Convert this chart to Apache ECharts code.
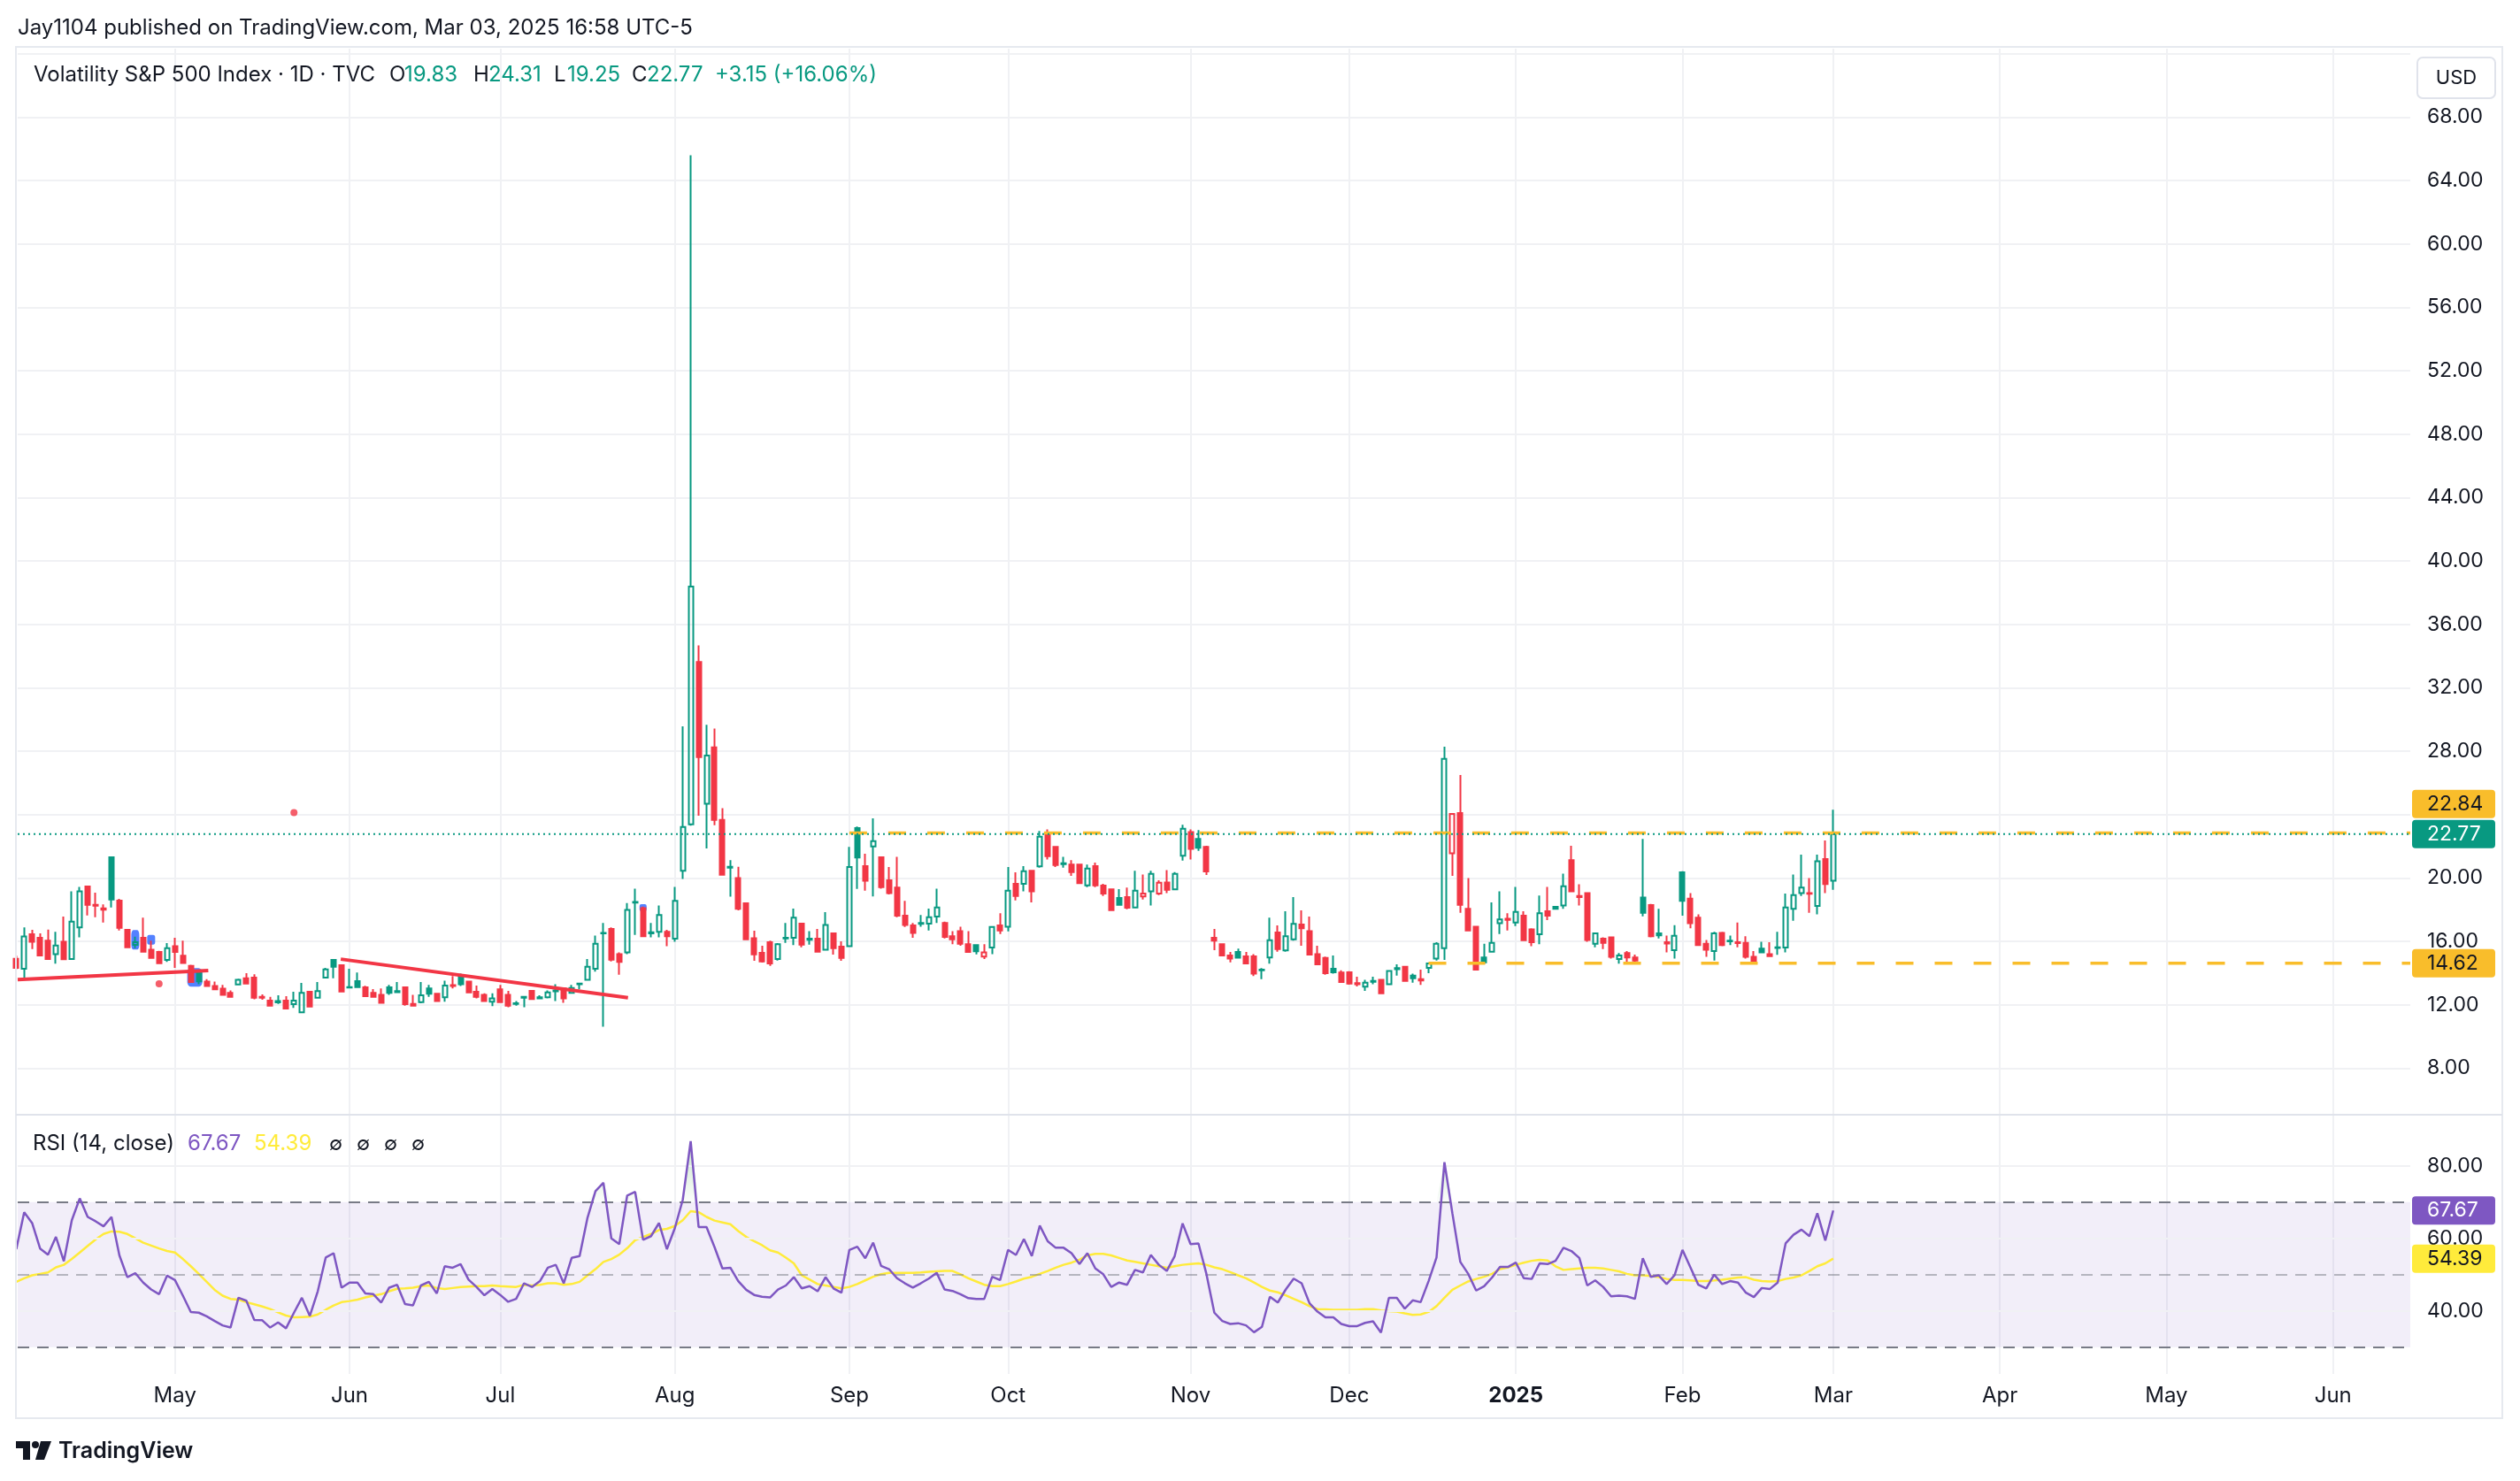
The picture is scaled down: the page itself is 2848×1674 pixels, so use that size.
<!DOCTYPE html>
<html><head><meta charset="utf-8">
<script src="https://cdn.jsdelivr.net/npm/echarts/dist/echarts.min.js"></script>
<style>html,body{margin:0;padding:0;background:#fff}#c{width:2848px;height:1674px}</style>
</head><body><div id="c"></div>
<script>
// ---------------- DATA ----------------
const tradingDays = {
  '2024-04': [3,4,5,8,9,10,11,12,15,16,17,18,19,22,23,24,25,26,29,30],
  '2024-05': [1,2,3,6,7,8,9,10,13,14,15,16,17,20,21,22,23,24,28,29,30,31],
  '2024-06': [3,4,5,6,7,10,11,12,13,14,17,18,20,21,24,25,26,27,28],
  '2024-07': [1,2,3,5,8,9,10,11,12,15,16,17,18,19,22,23,24,25,26,29,30,31],
  '2024-08': [1,2,5,6,7,8,9,12,13,14,15,16,19,20,21,22,23,26,27,28,29,30],
  '2024-09': [3,4,5,6,9,10,11,12,13,16,17,18,19,20,23,24,25,26,27,30],
  '2024-10': [1,2,3,4,7,8,9,10,11,14,15,16,17,18,21,22,23,24,25,28,29,30,31],
  '2024-11': [1,4,5,6,7,8,11,12,13,14,15,18,19,20,21,22,25,26,27,29],
  '2024-12': [2,3,4,5,6,9,10,11,12,13,16,17,18,19,20,23,24,26,27,30,31],
  '2025-01': [2,3,6,7,8,9,10,13,14,15,16,17,21,22,23,24,27,28,29,30,31],
  '2025-02': [3,4,5,6,7,10,11,12,13,14,18,19,20,21,24,25,26,27,28],
  '2025-03': [3,4,5,6,7,10,11,12,13,14,17,18,19,20,21,24,25,26,27,28,31],
  '2025-04': [1,2,3,4,7,8,9,10,11,14,15,16,17,21,22,23,24,25,28,29,30],
  '2025-05': [1,2,5,6,7,8,9,12,13,14,15,16,19,20,21,22,23,27,28,29,30],
  '2025-06': [2,3,4,5,6,9,10,11,12,13]
};
const monthNames = ['Jan','Feb','Mar','Apr','May','Jun','Jul','Aug','Sep','Oct','Nov','Dec'];
const priorClose = 14.61;

const opens = [
 14.9,14.27,16.45,16.22,16.04,15.2,15.98,14.89,16.88,19.46,18.3,18.08,21.3,18.57,16.73,15.78,16.22,15.48,15.33,14.83,
 15.7,15.09,14.46,13.99,13.47,13.19,13.02,12.75,13.28,13.68,13.71,12.5,12.26,12.24,12.26,12.04,11.52,12.82,12.45,13.71,
 14.83,14.5,13.12,13.49,13.1,12.75,12.63,13.1,12.8,13.1,12.06,12.17,13.03,12.69,12.47,13.24,13.84,13.47,12.82,12.63,
 12.19,12.97,12.63,12.05,12.45,12.88,12.4,12.47,12.85,13.03,12.75,13.3,13.58,14.27,16.5,16.78,15.2,15.3,18.45,18.09,
 16.5,16.6,16.6,16.17,20.45,23.39,33.62,24.68,28.24,23.66,20.65,20.0,18.4,16.2,15.28,15.95,14.89,16.18,16.22,17.12,
 16.1,16.17,15.48,16.5,15.67,15.7,23.15,20.75,21.99,21.3,19.85,19.39,17.62,17.01,17.1,17.12,17.57,17.16,16.32,16.65,
 15.82,15.76,15.04,15.61,17.01,16.93,19.63,19.63,20.45,20.73,22.87,21.96,20.88,20.84,20.84,19.54,20.75,19.52,19.28,18.74,
 18.79,18.14,18.83,19.15,19.02,19.72,19.28,21.4,22.89,22.46,21.96,16.22,15.82,15.11,15.33,15.05,15.05,14.18,14.98,16.56,
 15.43,16.13,17.06,16.65,15.2,14.96,14.27,14.03,14.05,13.36,13.14,13.45,13.58,13.3,14.25,14.4,13.84,13.53,14.33,14.92,
 15.57,21.56,24.1,18.05,16.93,14.98,15.35,17.15,17.42,17.19,17.62,16.75,16.45,17.9,18.18,18.27,21.12,18.87,19.05,15.85,
 16.17,16.26,14.89,15.26,14.98,18.77,18.29,16.5,15.95,15.44,20.35,18.7,17.49,15.85,15.39,16.54,16.0,15.95,15.91,15.02,
 15.54,15.2,15.58,15.61,18.05,19.05,19.05,18.23,21.19,19.83
];
const highs = [
 15.1,16.88,16.73,16.5,16.74,16.6,17.56,19.16,19.44,19.5,19.07,18.33,21.36,18.68,16.75,16.3,17.49,16.04,15.4,15.89,
 16.22,16.04,14.53,14.0,13.62,13.47,13.25,12.91,13.65,13.99,13.93,12.65,12.5,12.6,12.54,12.82,13.38,12.88,13.43,14.33,
 14.89,14.53,14.27,14.03,13.2,12.99,13.03,13.25,13.43,13.16,12.63,13.43,13.25,12.7,13.52,13.81,13.96,13.5,13.21,12.73,
 12.73,13.25,12.88,12.23,12.56,12.9,12.6,12.91,13.3,13.1,13.25,13.4,14.89,16.37,17.16,16.88,15.3,18.42,19.33,18.2,
 17.16,18.27,16.73,19.44,29.56,65.59,34.67,29.66,29.42,24.41,21.12,20.7,18.45,16.67,15.72,16.04,15.89,17.16,18.07,17.16,
 16.65,16.78,17.84,16.56,16.0,21.96,23.24,21.53,23.76,21.34,20.69,21.34,18.55,17.16,17.66,18.07,19.33,17.25,16.65,16.93,
 16.65,15.78,15.82,16.95,17.77,20.69,20.36,20.75,20.5,22.96,23.07,22.0,21.34,21.12,20.86,20.84,20.97,19.63,19.3,19.29,
 19.39,20.45,20.22,20.45,19.85,20.5,20.37,23.35,23.07,23.02,22.03,16.78,15.85,15.33,15.54,15.33,15.2,14.31,17.49,17.01,
 17.9,18.79,17.96,17.57,15.72,15.04,15.11,14.18,14.12,13.77,13.58,13.77,13.6,14.18,14.55,14.42,13.96,14.22,14.63,15.95,
 28.28,24.1,26.5,20.0,16.96,15.85,18.46,19.16,17.77,19.44,17.9,16.82,18.89,19.44,18.2,20.28,22.03,19.61,19.1,16.52,
 16.26,16.28,15.26,15.39,15.16,22.46,18.36,18.05,16.37,17.02,20.42,19.05,17.71,16.09,16.6,16.6,16.37,17.19,16.32,15.39,
 15.98,15.95,16.6,19.02,20.22,21.47,20.0,21.47,22.36,24.31
];
const lows = [
 14.25,13.71,15.52,15.08,14.85,14.59,14.85,14.85,16.26,17.64,17.53,17.19,18.14,16.69,15.6,15.57,15.29,14.9,14.6,14.7,
 14.33,14.6,13.4,13.3,13.15,12.95,12.6,12.48,13.25,13.28,12.35,12.32,11.89,12.06,11.74,11.8,11.5,11.87,12.39,13.7,
 13.68,12.8,13.06,13.1,12.5,12.48,12.1,12.63,12.78,11.94,11.89,12.1,12.5,12.2,12.19,13.03,13.19,12.75,12.41,12.2,
 11.91,12.15,11.85,11.95,11.85,12.34,12.36,12.41,12.23,12.13,12.73,12.97,13.55,14.09,10.62,14.74,13.9,15.2,16.41,16.3,
 16.26,16.26,15.7,15.98,19.94,23.3,23.93,21.87,23.33,20.18,18.82,17.95,16.1,14.78,14.66,14.46,14.79,15.91,15.76,15.63,
 15.8,15.33,15.45,15.16,14.77,15.65,19.31,19.2,18.83,19.33,18.96,17.53,16.91,16.22,16.93,16.69,17.16,16.19,15.82,15.72,
 15.3,15.18,14.89,15.2,16.47,16.63,18.59,19.15,18.46,20.65,21.16,20.69,20.65,20.13,19.65,19.42,19.42,18.87,17.95,18.28,
 18.03,18.1,18.64,18.27,18.92,19.05,19.25,21.1,21.16,21.71,20.19,15.44,15.1,14.68,14.92,14.6,13.81,13.62,14.59,15.35,
 15.35,16.04,15.72,15.14,14.53,13.9,13.96,13.4,13.27,13.16,12.88,13.29,12.71,13.28,13.84,13.5,13.4,13.25,13.99,14.79,
 14.83,20.13,17.81,16.67,14.2,14.59,15.3,16.47,16.69,16.97,16.05,15.7,15.82,17.34,18.0,18.05,19.13,18.27,15.98,15.63,
 15.52,14.92,14.59,14.59,14.59,17.58,16.26,16.19,15.3,14.92,17.62,16.82,15.74,15.02,14.79,15.7,15.76,15.63,14.92,14.72,
 15.28,15.05,15.15,15.3,17.3,18.87,17.81,17.71,19.05,19.25
];
const closes = [
 14.33,16.31,15.98,15.11,14.89,15.74,14.87,17.25,19.16,18.31,18.25,18.0,18.64,16.86,15.63,15.95,15.35,14.96,14.62,15.57,
 15.33,14.64,13.43,13.48,13.19,12.97,12.63,12.5,13.58,13.34,12.45,12.44,11.95,12.15,11.76,12.26,12.75,11.89,12.86,14.23,
 14.4,12.84,13.09,13.12,12.54,12.5,12.13,12.75,12.86,12.04,11.94,12.6,12.69,12.23,13.21,13.18,13.3,12.78,12.5,12.23,
 12.41,12.17,11.95,12.1,12.5,12.36,12.48,12.78,12.91,12.41,13.06,13.34,14.4,15.85,16.54,14.85,14.7,17.99,18.49,16.32,
 16.58,17.66,16.32,18.55,23.22,38.39,27.63,27.73,23.66,20.21,20.71,18.05,16.13,15.18,14.74,14.61,15.82,16.22,17.49,15.8,
 16.17,15.35,17.04,15.57,14.96,20.69,21.29,19.82,22.33,19.42,19.05,17.62,17.03,16.54,17.16,17.53,18.14,16.28,16.13,15.85,
 15.33,15.37,15.3,16.91,16.69,19.2,18.87,20.43,19.15,22.61,21.38,20.82,20.93,20.37,19.67,20.6,19.54,19.02,17.97,18.31,
 18.12,19.2,19.02,20.26,19.7,19.26,20.26,23.11,21.84,21.9,20.41,16.04,15.11,14.92,14.97,14.61,13.96,14.22,16.08,15.52,
 16.32,17.1,16.82,15.16,14.55,13.99,14.05,13.43,13.34,13.3,13.4,13.51,12.73,14.14,14.31,13.51,13.68,13.62,14.61,15.85,
 27.52,24.04,18.31,16.69,14.22,14.68,15.91,17.38,17.35,17.86,16.08,15.95,17.77,17.62,18.05,19.48,19.15,18.8,16.09,16.5,
 15.91,15.02,15.11,14.98,14.79,17.81,16.32,16.38,15.87,16.35,18.55,17.15,15.76,15.48,16.5,15.76,16.04,15.89,15.02,14.74,
 15.3,15.07,15.63,18.14,18.92,19.39,19.0,21.06,19.62,22.77
];
const rsiValues = [
 57.0,67.2,64.2,57.2,55.5,60.4,53.7,65.0,71.0,65.9,64.7,63.3,65.9,55.3,49.3,50.4,47.8,45.9,44.6,49.7,
 48.5,44.2,39.7,39.5,38.5,37.2,36.0,35.4,43.6,42.8,37.5,37.4,35.4,36.8,35.2,39.5,43.6,38.6,45.4,54.7,
 55.9,46.4,47.8,47.8,44.8,44.6,42.3,46.4,47.2,41.9,41.5,47.0,48.0,44.8,52.3,51.9,52.9,48.6,46.6,44.3,
 46.0,44.4,42.5,43.3,47.6,46.6,48.2,51.9,52.7,47.6,54.6,55.1,65.7,73.0,75.3,60.0,58.4,71.8,72.8,59.6,
 60.6,64.2,57.0,62.8,70.6,86.8,63.1,63.1,57.6,51.7,51.9,48.2,45.8,44.4,43.9,43.7,45.9,47.0,49.3,46.2,
 46.8,45.4,49.3,46.2,45.0,56.8,57.7,54.5,58.8,52.4,51.5,49.0,47.6,46.4,47.6,48.9,50.5,45.9,45.5,44.6,
 43.5,43.3,43.3,49.4,48.5,56.8,55.4,59.8,55.1,63.5,59.2,57.4,57.4,55.9,52.9,55.9,51.7,50.1,46.6,47.8,
 47.2,51.3,50.6,55.4,52.7,51.0,55.1,64.1,58.4,58.6,50.2,39.5,37.2,36.4,36.6,36.0,34.1,35.6,43.9,42.3,
 45.9,48.9,47.6,42.1,39.8,38.2,38.2,36.4,35.8,35.8,36.7,37.1,34.0,43.6,43.6,40.6,42.9,42.4,48.2,54.7,
 81.0,66.9,53.5,50.2,45.6,46.8,49.2,52.1,52.1,53.3,49.0,48.8,53.1,52.9,53.8,57.4,56.5,54.6,47.0,48.4,
 46.6,44.0,44.2,44.0,43.3,54.5,49.4,49.8,47.4,49.8,56.8,52.0,47.2,46.2,50.0,47.4,48.2,47.8,45.0,43.8,
 46.3,46.0,47.8,58.6,61.0,62.4,60.6,66.9,59.4,67.67
];
const rsiMA = [
 48.0,49.0,49.8,50.2,50.6,52.0,52.7,54.3,56.1,57.9,59.7,61.2,61.9,61.8,61.2,60.0,58.8,58.0,57.2,56.5,
 56.1,54.3,52.3,50.2,48.0,45.8,44.2,43.3,43.1,42.4,41.8,41.2,40.5,39.6,38.7,38.2,38.3,38.4,39.0,40.3,
 41.5,42.4,42.7,43.1,43.7,44.2,44.6,45.4,46.1,46.2,46.4,46.8,47.0,46.3,46.0,46.3,46.6,46.7,46.8,46.8,
 47.0,46.8,46.7,46.6,47.2,47.0,47.2,47.6,47.6,47.2,47.4,48.0,49.8,51.5,53.5,54.3,55.5,57.3,59.5,60.4,
 61.2,62.3,62.6,63.4,65.0,67.5,67.2,65.9,64.9,64.4,63.9,62.0,60.4,59.2,58.1,56.7,56.1,54.7,53.1,49.8,
 48.6,47.4,47.0,46.6,46.2,46.6,47.4,48.4,49.4,50.1,50.5,50.5,50.5,50.5,50.6,50.8,50.9,51.0,51.0,50.1,
 49.0,48.1,47.2,46.8,46.8,47.4,48.1,48.9,49.4,50.2,51.0,51.9,52.7,53.3,54.1,55.3,55.7,55.7,55.3,54.6,
 53.9,53.5,53.1,52.7,52.3,51.9,52.3,52.7,52.9,53.1,52.7,52.0,51.5,50.7,49.8,49.0,47.8,46.6,45.6,45.1,
 44.3,43.3,42.4,41.3,40.5,40.4,40.3,40.3,40.3,40.3,40.5,40.5,40.1,39.9,39.8,39.3,38.9,39.0,39.7,41.3,
 43.6,45.8,47.0,48.1,48.8,49.4,50.2,51.5,52.0,52.7,53.3,53.8,54.1,53.9,52.3,51.3,51.5,51.7,51.9,51.9,
 51.7,51.3,50.9,50.2,49.8,49.8,49.6,49.3,48.8,48.5,48.5,48.4,48.2,48.2,48.4,48.6,48.9,49.2,49.3,48.6,
 48.2,48.1,48.2,48.8,49.2,49.8,51.0,52.3,53.1,54.39
];
// horizontal level drawings
const levelValues = [22.84, 14.62];
const levelStarts = ['2024-09-03', '2024-12-16'];
// trend line drawings: [barIndex, price] endpoints
const trendLines = [
  [[0.18, 13.59], [24.2, 14.16]],
  [[40.9, 14.88], [77.1, 12.45]]
];
// marker dots [barIndex, price]
const markerDots = [[35, 24.13], [18, 13.32]];
// blue highlight blobs [barIndex, price]
const highlights = [[15, 16.1], [17, 16.1], [22.5, 13.73], [79, 18.12]];
// header values
const ohlcLast = {O: '19.83', H: '24.31', L: '19.25', C: '22.77', chg: '+3.15 (+16.06%)'};
const rsiLegend = ['67.67', '54.39'];

// ---------------- BUILD ----------------
const days = [];
Object.keys(tradingDays).forEach(ym => tradingDays[ym].forEach(d => days.push(ym + '-' + String(d).padStart(2, '0'))));
const monthStarts = [];
const monthLabel = {};
for (let i = 1; i < days.length; i++) {
  if (days[i].slice(0, 7) !== days[i - 1].slice(0, 7)) {
    monthStarts.push(i);
    const m = +days[i].slice(5, 7);
    monthLabel[i] = m === 1 ? '{b|' + days[i].slice(0, 4) + '}' : monthNames[m - 1];
  }
}
const XMIN = 0.18, XMAX = 301.73;
const FONT = 'Inter, "DejaVu Sans", sans-serif';
const TXT = '#131722', GREEN = '#089981', RED = '#F23645', PURPLE = '#7E57C2', YEL = '#FFEB3B', ORANGE = '#F9BD2B';
const GRID = '#F0F1F4';

const candleData = opens.map((o, i) => {
  const c = closes[i];
  const prev = i === 0 ? priorClose : closes[i - 1];
  const col = c >= prev ? GREEN : RED;
  const fill = c > o ? 'rgba(255,255,255,0)' : col;
  return { value: [i, o, c, lows[i], highs[i]],
    itemStyle: { color: fill, color0: fill, borderColor: col, borderColor0: col, borderColorDoji: col } };
});
const lastClose = closes[closes.length - 1];
const hlSizes = [[9, 22], [9, 11], [17, 21], [8, 8]];

const chart = echarts.init(document.getElementById('c'), null, { renderer: 'canvas' });
const option = {
  animation: false,
  backgroundColor: '#ffffff',
  grid: [
    { left: 20, right: 124, top: 60.7, height: 1146.7, outerBoundsMode: 'none' },
    { left: 20, right: 124, top: 1235.7, height: 328, outerBoundsMode: 'none' },
    { left: 20, right: 124, top: 55, bottom: 121, outerBoundsMode: 'none' }
  ],
  xAxis: [
    { type: 'value', gridIndex: 0, min: XMIN, max: XMAX, show: false },
    { type: 'value', gridIndex: 1, min: XMIN, max: XMAX, show: false },
    { type: 'value', gridIndex: 2, min: XMIN, max: XMAX,
      axisLine: { show: false },
      axisTick: { show: false, customValues: monthStarts },
      axisLabel: { customValues: monthStarts, margin: 13, color: TXT, fontSize: 24, fontFamily: FONT,
        formatter: v => monthLabel[Math.round(v)] || '',
        rich: { b: { fontWeight: 'bold', fontSize: 24, fontFamily: FONT, color: TXT } } },
      splitLine: { show: true, lineStyle: { color: GRID, width: 2 } } }
  ],
  yAxis: [
    { type: 'value', gridIndex: 0, position: 'right', min: 8, max: 72, interval: 4,
      axisLine: { show: false }, axisTick: { show: false },
      axisLabel: { margin: 19, color: TXT, fontSize: 23, fontFamily: FONT,
        formatter: v => (v === 24 || v === 72) ? '' : v.toFixed(2) },
      splitLine: { show: true, lineStyle: { color: GRID, width: 2 } } },
    { type: 'value', gridIndex: 1, position: 'right', min: 20, max: 100, interval: 20,
      axisLine: { show: false }, axisTick: { show: false },
      axisLabel: { margin: 19, color: TXT, fontSize: 23, fontFamily: FONT,
        formatter: v => (v >= 40 && v <= 80) ? v.toFixed(2) : '' },
      splitLine: { show: false } },
    { type: 'value', gridIndex: 2, min: 0, max: 1, show: false }
  ],
  series: [
    { type: 'scatter', xAxisIndex: 0, yAxisIndex: 0, z: 1, silent: true,
      data: highlights, symbol: 'roundRect',
      symbolSize: (v, p) => hlSizes[p.dataIndex],
      itemStyle: { color: '#2962FF' } },
    { type: 'candlestick', xAxisIndex: 0, yAxisIndex: 0, z: 3, silent: true,
      encode: { x: 0, y: [1, 2, 3, 4] },
      barWidth: 5.5, clip: true,
      itemStyle: { borderWidth: 2 },
      data: candleData },
    ...trendLines.map(t => ({ type: 'line', xAxisIndex: 0, yAxisIndex: 0, z: 4, silent: true,
      data: t, symbol: 'none', clip: true, lineStyle: { color: RED, width: 4 } })),
    ...levelValues.map((v, j) => ({ type: 'line', xAxisIndex: 0, yAxisIndex: 0, z: 4, silent: true,
      data: [[days.indexOf(levelStarts[j]), v], [XMAX, v]], symbol: 'none', clip: true,
      lineStyle: { color: ORANGE, width: 3.5, type: [20, 24] } })),
    { type: 'line', xAxisIndex: 0, yAxisIndex: 0, z: 5, silent: true,
      data: [[XMIN, lastClose], [XMAX, lastClose]], symbol: 'none',
      lineStyle: { color: GREEN, width: 2, type: [2, 4] } },
    { type: 'scatter', xAxisIndex: 0, yAxisIndex: 0, z: 6, silent: true,
      data: markerDots, symbol: 'circle', symbolSize: 8, itemStyle: { color: RED } },
    // RSI guides
    { type: 'line', xAxisIndex: 1, yAxisIndex: 1, z: 1, silent: true, data: [], symbol: 'none',
      markArea: { silent: true, itemStyle: { color: 'rgba(126,87,194,0.1)' },
        data: [[{ yAxis: 30 }, { yAxis: 70 }]] },
      markLine: { silent: true, symbol: 'none', label: { show: false },
        data: [
          { yAxis: 80, lineStyle: { color: GRID, type: 'solid', width: 2 } },
          { yAxis: 60, lineStyle: { color: GRID, type: 'solid', width: 2 } },
          { yAxis: 40, lineStyle: { color: GRID, type: 'solid', width: 2 } },
          { yAxis: 70, lineStyle: { color: '#787B86', type: [13, 9], width: 2 } },
          { yAxis: 50, lineStyle: { color: 'rgba(120,123,134,0.5)', type: [13, 9], width: 2 } },
          { yAxis: 30, lineStyle: { color: '#787B86', type: [13, 9], width: 2 } }
        ] } },
    { type: 'line', xAxisIndex: 1, yAxisIndex: 1, z: 2, silent: true, symbol: 'none',
      data: rsiValues.map((v, i) => [i, Math.max(v, 70)]),
      lineStyle: { opacity: 0 },
      areaStyle: { origin: 70, color: new echarts.graphic.LinearGradient(0, 0, 0, 1, [
        { offset: 0, color: 'rgba(76,175,80,0.45)' }, { offset: 1, color: 'rgba(76,175,80,0.03)' }]) } },
    { type: 'line', xAxisIndex: 1, yAxisIndex: 1, z: 4, silent: true, symbol: 'none',
      data: rsiMA.map((v, i) => [i, v]), lineStyle: { color: YEL, width: 2.5 } },
    { type: 'line', xAxisIndex: 1, yAxisIndex: 1, z: 5, silent: true, symbol: 'none',
      data: rsiValues.map((v, i) => [i, v]), lineStyle: { color: PURPLE, width: 2.5 } }
  ]
};
chart.setOption(option);

// ---------------- overlays ----------------
const py = v => chart.convertToPixel({ yAxisIndex: 0 }, v);
const ry = v => chart.convertToPixel({ yAxisIndex: 1 }, v);
function txt(x, y, s, fill, size, weight) {
  return { type: 'text', x: x, y: y, z: 100,
    style: { text: s, fill: fill || TXT, font: (weight || 'normal') + ' ' + (size || 24) + 'px ' + FONT,
      align: 'left', verticalAlign: 'middle' } };
}
function tag(yc, label, bg, fg) {
  return { type: 'group', children: [
    { type: 'rect', z: 200, shape: { x: 2726, y: yc - 16, width: 94, height: 32, r: 4 }, style: { fill: bg } },
    { type: 'text', z: 201, x: 2743, y: yc,
      style: { text: label, fill: fg, font: '23px ' + FONT, align: 'left', verticalAlign: 'middle' } }
  ] };
}
const yLast = py(lastClose);
const yLev0 = Math.min(py(levelValues[0]), yLast - 34);
const g = [
  { type: 'rect', z: 90, shape: { x: 18, y: 53, width: 2810, height: 1550 },
    style: { fill: 'none', stroke: '#E6E9EF', lineWidth: 2 } },
  { type: 'line', z: 91, shape: { x1: 18, y1: 1260, x2: 2828, y2: 1260 },
    style: { stroke: '#E0E3EB', lineWidth: 2 } },
  txt(20, 32, 'Jay1104 published on TradingView.com, Mar 03, 2025 16:58 UTC-5', TXT, 24),
  txt(38, 85, 'Volatility S&P 500 Index · 1D · TVC', TXT, 24),
  txt(440, 85, 'O', TXT, 24), txt(457, 85, ohlcLast.O, GREEN, 24),
  txt(535, 85, 'H', TXT, 24), txt(552, 85, ohlcLast.H, GREEN, 24),
  txt(626, 85, 'L', TXT, 24), txt(641, 85, ohlcLast.L, GREEN, 24),
  txt(714, 85, 'C', TXT, 24), txt(731, 85, ohlcLast.C, GREEN, 24),
  txt(808, 85, ohlcLast.chg, GREEN, 24),
  txt(37, 1293, 'RSI (14, close)', TXT, 24),
  txt(212, 1293, rsiLegend[0], PURPLE, 24),
  txt(287, 1293, rsiLegend[1], YEL, 24),
  txt(372, 1293, '∅', TXT, 22), txt(403, 1293, '∅', TXT, 22), txt(434, 1293, '∅', TXT, 22), txt(465, 1293, '∅', TXT, 22),
  { type: 'rect', z: 100, shape: { x: 2732, y: 65, width: 88, height: 46, r: 6 },
    style: { fill: '#fff', stroke: '#E0E3EB', lineWidth: 2 } },
  { type: 'text', z: 101, x: 2776, y: 88, style: { text: 'USD', fill: TXT, font: '22px ' + FONT, align: 'center', verticalAlign: 'middle' } },
  // TradingView logo
  { type: 'polygon', z: 100, shape: { points: [[18, 1629], [34, 1629], [34, 1650], [26, 1650], [26, 1637], [18, 1637]] }, style: { fill: TXT } },
  { type: 'circle', z: 100, shape: { cx: 40, cy: 1633, r: 4 }, style: { fill: TXT } },
  { type: 'polygon', z: 100, shape: { points: [[46, 1629], [58, 1629], [50, 1650], [40, 1650]] }, style: { fill: TXT } },
  txt(66, 1640, 'TradingView', TXT, 25, '600'),
  // price tags
  tag(yLev0, levelValues[0].toFixed(2), ORANGE, TXT),
  tag(yLast, lastClose.toFixed(2), GREEN, '#ffffff'),
  tag(py(levelValues[1]), levelValues[1].toFixed(2), ORANGE, TXT),
  tag(ry(rsiValues[rsiValues.length - 1]), rsiLegend[0], PURPLE, '#ffffff'),
  tag(ry(rsiMA[rsiMA.length - 1]), rsiLegend[1], YEL, TXT)
];
chart.setOption({ graphic: g });
</script>
</body></html>
